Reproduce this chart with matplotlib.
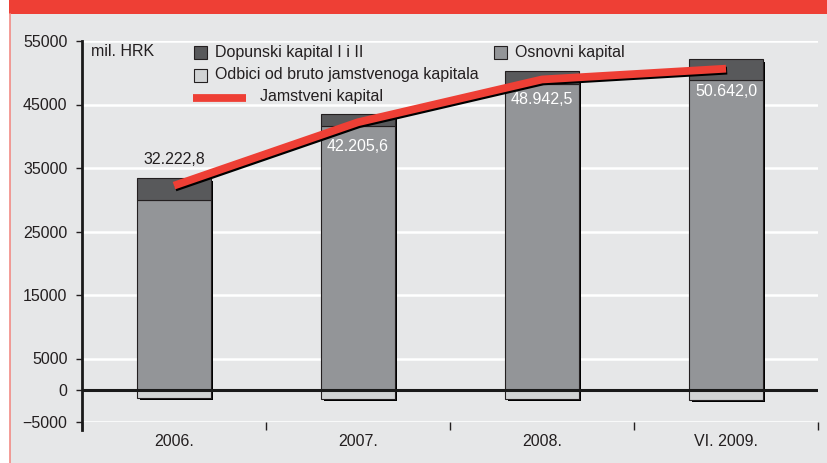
import matplotlib
matplotlib.use("Agg")
import matplotlib.pyplot as plt
import matplotlib.patheffects as pe
from matplotlib.patches import Rectangle
from matplotlib.lines import Line2D
import numpy as np

plt.rcParams['font.family'] = ['Liberation Sans', 'DejaVu Sans']

# values in mil. HRK
categories = ["2006.", "2007.", "2008.", "VI. 2009."]
osnovni = [29900, 41600, 48200, 48900]
dopunski = [3470, 1920, 2050, 3210]
odbici = [1150, 1310, 1310, 1470]
jamstveni = [32222.8, 42205.6, 48942.5, 50642.0]
jamstveni_labels = ["32.222,8", "42.205,6", "48.942,5", "50.642,0"]

BG = "#e6e7e8"
RED = "#ee3f35"
C_DOP = "#58595b"
C_OSN = "#939598"
C_ODB = "#d1d3d4"
EDGE = "#231f20"

W, H = 828, 463
fig = plt.figure(figsize=(W / 100, H / 100), dpi=100, facecolor="white")


def fx(px):
    return px / W


def fy(py):
    return 1 - py / H


# background panel, red header band and left border
fig.add_artist(Rectangle((fx(10), 0), 1 - fx(10), fy(14), transform=fig.transFigure,
                         facecolor=BG, edgecolor="none", zorder=0))
fig.add_artist(Rectangle((fx(9), fy(14)), 1 - fx(9), 14 / H, transform=fig.transFigure,
                         facecolor=RED, edgecolor="none", zorder=0))
fig.add_artist(Line2D([fx(9.5), fx(9.5)], [0, fy(14)], transform=fig.transFigure,
                      color="#f28b85", lw=1.2, zorder=1))

ax = fig.add_axes([fx(82), 1 - 422 / H, (818 - 82) / W, (422 - 41) / H])
ax.set_facecolor("none")

x = np.arange(len(categories))
bw = 0.40
osn = np.array(osnovni)
dop = np.array(dopunski)
odb = np.array(odbici)

# shadows behind the stacks
sdx, sdy = 0.014, 400
for i in range(len(x)):
    ax.add_patch(Rectangle((x[i] - bw / 2 + sdx, -odb[i] - sdy), bw, osn[i] + dop[i] + odb[i],
                           facecolor="black", edgecolor="none", zorder=2))

ax.bar(x, -odb, bw, color=C_ODB, edgecolor=EDGE, linewidth=0.8, zorder=3)
ax.bar(x, osn, bw, color=C_OSN, edgecolor=EDGE, linewidth=0.8, zorder=3)
ax.bar(x, dop, bw, bottom=osn, color=C_DOP, edgecolor=EDGE, linewidth=0.8, zorder=3)

ax.axhline(0, color="#1a1a1a", lw=2.2, zorder=4)

ax.plot(x, jamstveni, color=RED, lw=5.6, solid_capstyle="butt", solid_joinstyle="miter", zorder=6,
        path_effects=[pe.SimpleLineShadow(offset=(0.8, -1.4), shadow_color="black", alpha=1),
                      pe.Normal()])

# data labels
label_offsets = [4100, -3850, -3150, -3600]
label_colors = ["#231f20", "white", "white", "white"]
for i in range(len(x)):
    ax.text(x[i], jamstveni[i] + label_offsets[i], jamstveni_labels[i], ha="center", va="center",
            fontsize=11.5, color=label_colors[i], zorder=7)

ax.set_xlim(-0.5, 3.5)
ax.set_ylim(-5000, 55000)
ax.set_yticks([-5000, 0, 5000, 15000, 25000, 35000, 45000, 55000])
ax.set_yticklabels(["\u22125000", "0", "5000", "15000", "25000", "35000", "45000", "55000"])
ax.set_xticks(x)
ax.set_xticklabels(categories)
ax.set_xticks(np.arange(-0.5, 4.0, 1.0), minor=True)
ax.tick_params(axis="x", which="major", length=0, pad=9, labelsize=11.5, labelcolor="#231f20")
ax.tick_params(axis="x", which="minor", length=6, width=1, direction="out", color="#231f20")
ax.tick_params(axis="y", length=4.5, width=1, direction="out", pad=6, labelsize=11.5,
               labelcolor="#231f20", color="#231f20")

ax.yaxis.grid(True, color="white", lw=1.8, zorder=1)
ax.set_axisbelow(True)
for s in ["top", "right", "bottom"]:
    ax.spines[s].set_visible(False)
ax.spines["left"].set_linewidth(2)
ax.spines["left"].set_color("#1a1a1a")
ax.spines["left"].set_bounds(-6300, 55000)

# unit label and manual legend
fig.text(fx(91), fy(52), "mil. HRK", fontsize=11.5, color="#231f20", va="center", ha="left")


def legend_box(px, py, color, label):
    fig.add_artist(Rectangle((fx(px), fy(py + 6.5)), 13 / W, 13 / H, transform=fig.transFigure,
                             facecolor=color, edgecolor=EDGE, lw=0.8, zorder=8))
    fig.text(fx(px + 21), fy(py), label, fontsize=11.5, color="#231f20", va="center", ha="left",
             zorder=8)


legend_box(194, 52, C_DOP, "Dopunski kapital I i II")
legend_box(494, 52, C_OSN, "Osnovni kapital")
legend_box(194, 75, C_ODB, "Odbici od bruto jamstvenoga kapitala")
fig.add_artist(Line2D([fx(193), fx(246)], [fy(97.5), fy(97.5)], transform=fig.transFigure,
                      color=RED, lw=5.6, solid_capstyle="butt", zorder=8))
fig.text(fx(260), fy(97), "Jamstveni kapital", fontsize=11.5, color="#231f20", va="center",
         ha="left", zorder=8)

fig.savefig("out.png", dpi=100, facecolor="white")
